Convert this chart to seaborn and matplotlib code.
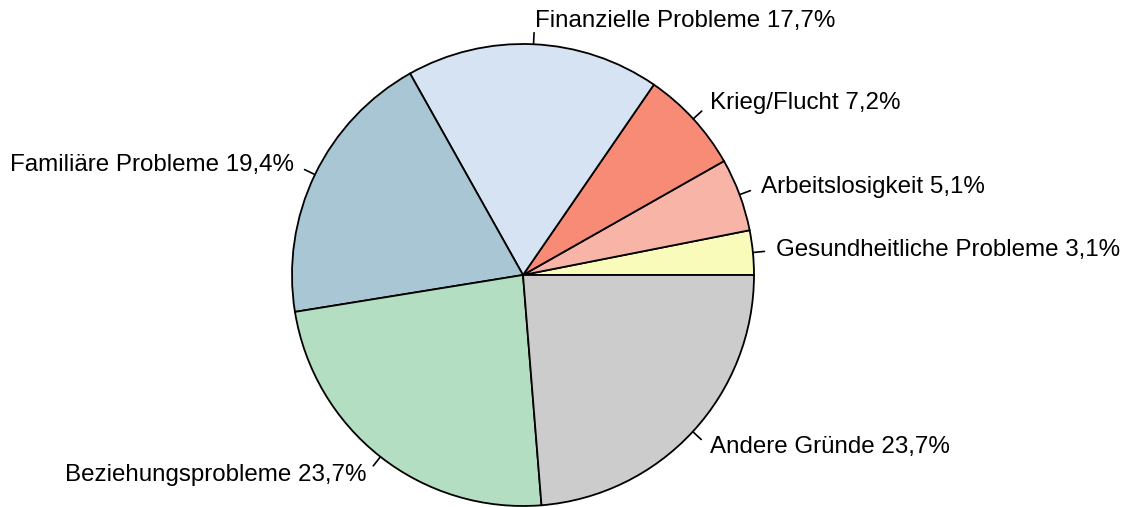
import matplotlib
matplotlib.use("Agg")
import matplotlib.pyplot as plt
import seaborn as sns
import numpy as np

categories = ["Gesundheitliche Probleme", "Arbeitslosigkeit", "Krieg/Flucht",
              "Finanzielle Probleme", "Familiäre Probleme", "Beziehungsprobleme",
              "Andere Gründe"]
values = [3.1, 5.1, 7.2, 17.7, 19.4, 23.7, 23.7]
colors = ["#F8FBB9", "#F9B4A8", "#F88B75", "#D6E3F2", "#A8C6D3", "#B3DEC1", "#CCCCCC"]

sns.set_theme(style="white")
plt.rcParams['font.family'] = ['Liberation Sans', 'DejaVu Sans']

W, H = 1127, 507
fig = plt.figure(figsize=(W / 100, H / 100), dpi=100)
ax = fig.add_axes([0, 0, 1, 1])
cx, cy, r = 523, 232, 231
palette = sns.color_palette(colors)
wedges, _ = ax.pie(values, colors=palette, startangle=0, counterclock=True,
                   center=(cx, cy), radius=r,
                   wedgeprops=dict(edgecolor="black", linewidth=1.3))
labels = [f"{c} {v:.1f}%".replace(".", ",") for c, v in zip(categories, values)]
for w, lab in zip(wedges, labels):
    ang = np.deg2rad((w.theta1 + w.theta2) / 2)
    c, s = np.cos(ang), np.sin(ang)
    ax.plot([cx + r * c, cx + 1.05 * r * c], [cy + r * s, cy + 1.05 * r * s],
            color="black", lw=1.2)
    ax.text(cx + 1.1 * r * c, cy + 1.1 * r * s, lab, color="black",
            ha="left" if c > 0 else "right", va="center", fontsize=17.4)
ax.set_xlim(0, W)
ax.set_ylim(0, H)
ax.set_aspect("equal")
ax.axis("off")
fig.savefig("out.png", dpi=100, facecolor="white")
